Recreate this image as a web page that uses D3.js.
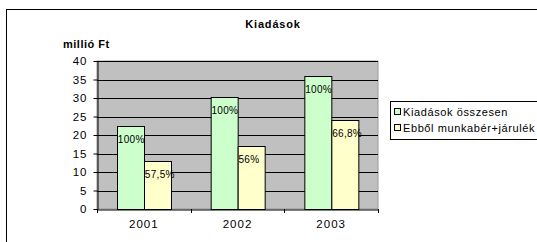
<!DOCTYPE html>
<html>
<head>
<meta charset="utf-8">
<script src="https://cdn.jsdelivr.net/npm/d3@7"></script>
<style>
  body { margin: 0; background: #fff; }
  text { font-family: "Liberation Sans", Arial, sans-serif; }
</style>
</head>
<body>
<script>
// chart data
const categories = ["2001", "2002", "2003"];
const seriesNames = ["Kiadások összesen", "Ebből munkabér+járulék"];
const totalValues = [22.4, 30.3, 35.9];
const wageValues = [12.9, 17.0, 24.0];
const totalLabels = ["100%", "100%", "100%"];
const wageLabels = ["57,5%", "56%", "66,8%"];
const yTicks = [0, 5, 10, 15, 20, 25, 30, 35, 40];
const seriesColors = ["#ccffcc", "#ffffcc"];

const W = 537, H = 242;
const plot = {left: 97, right: 378, top: 61, bottom: 209};

const svg = d3.select("body")
  .append("svg")
    .attr("width", W)
    .attr("height", H);

// outer chart frame (runs off right/bottom edge)
svg.append("rect")
  .attr("x", 6.5).attr("y", 9.5)
  .attr("width", 540).attr("height", 240)
  .attr("fill", "#fff")
  .attr("stroke", "#000");

// scales
const x = d3.scaleBand()
  .domain(categories)
  .range([plot.left, plot.right]);

const x1 = d3.scaleBand()
  .domain(seriesNames)
  .range([0, x.bandwidth()])
  .paddingOuter(0.735);

const y = d3.scaleLinear()
  .domain([0, 40])
  .range([plot.bottom, plot.top]);

// plot background
svg.append("rect")
  .attr("x", plot.left).attr("y", plot.top)
  .attr("width", plot.right - plot.left)
  .attr("height", plot.bottom - plot.top)
  .attr("fill", "#c0c0c0")
  .attr("stroke", "#999");

// gridlines
svg.append("g")
  .selectAll("line")
  .data(yTicks.filter(d => d > 0))
  .enter()
  .append("line")
    .attr("x1", plot.left).attr("x2", plot.right)
    .attr("y1", d => Math.round(y(d)) + 0.5)
    .attr("y2", d => Math.round(y(d)) + 0.5)
    .attr("stroke", "#000");

// bars
const rows = categories.map((c, i) => ({
  cat: c,
  vals: [totalValues[i], wageValues[i]],
  labels: [totalLabels[i], wageLabels[i]]
}));

const groups = svg.append("g")
  .selectAll("g")
  .data(rows)
  .enter()
  .append("g")
    .attr("transform", d => `translate(${x(d.cat)},0)`);

groups.selectAll("rect")
  .data(d => d.vals.map((v, k) => ({name: seriesNames[k], v: v, k: k})))
  .enter()
  .append("rect")
    .attr("x", d => Math.round(x1(d.name)) + 0.5)
    .attr("y", d => Math.round(y(d.v)) + 0.5)
    .attr("width", Math.round(x1.bandwidth()))
    .attr("height", d => Math.round(y(0)) - Math.round(y(d.v)))
    .attr("fill", d => seriesColors[d.k])
    .attr("stroke", "#000");

// percentage labels
groups.selectAll("text")
  .data(d => d.vals.map((v, k) => ({name: seriesNames[k], v: v, label: d.labels[k]})))
  .enter()
  .append("text")
    .attr("x", d => x1(d.name) + 1)
    .attr("y", d => y(d.v) + 17)
    .style("font-size", "10px")
    .style("letter-spacing", "0.3px")
    .attr("fill", "#000")
    .text(d => d.label);

// y axis
const yAxis = svg.append("g")
  .attr("transform", `translate(${plot.left + 0.5},0)`)
  .call(d3.axisLeft(y).tickValues(yTicks).tickSize(4).tickSizeOuter(0).tickPadding(6));
yAxis.select(".domain").attr("stroke", "#000");
yAxis.selectAll("line").attr("stroke", "#000");
yAxis.selectAll("text")
  .style("font-size", "11.5px")
  .style("letter-spacing", "1px")
  .style("font-family", "Liberation Sans, Arial, sans-serif")
  .attr("fill", "#000");

// x axis
const xAxis = svg.append("g")
  .attr("transform", `translate(0,${plot.bottom + 0.5})`)
  .call(d3.axisBottom(x).tickSize(0).tickSizeOuter(0).tickPadding(10));
xAxis.select(".domain").attr("stroke", "#000");
xAxis.selectAll("text")
  .style("font-size", "11.5px")
  .style("letter-spacing", "1px")
  .style("font-family", "Liberation Sans, Arial, sans-serif")
  .attr("fill", "#000");

// category separator ticks
const bounds = categories.map(c => x(c)).concat([x(categories[categories.length - 1]) + x.bandwidth()]);
svg.append("g")
  .selectAll("line")
  .data(bounds)
  .enter()
  .append("line")
    .attr("x1", d => Math.round(d) + 0.5).attr("x2", d => Math.round(d) + 0.5)
    .attr("y1", plot.bottom).attr("y2", plot.bottom + 4)
    .attr("stroke", "#000");

// title
svg.append("text")
  .attr("x", 273).attr("y", 28)
  .attr("text-anchor", "middle")
  .style("font-size", "11px")
  .style("font-weight", "bold")
  .style("letter-spacing", "0.8px")
  .text("Kiadások");

// y axis unit label
svg.append("text")
  .attr("x", 63).attr("y", 48)
  .style("font-size", "11px")
  .style("font-weight", "bold")
  .style("letter-spacing", "0.5px")
  .text("millió Ft");

// legend
const legend = svg.append("g").attr("transform", "translate(390,101)");
legend.append("rect")
  .attr("x", 0.5).attr("y", 0.5)
  .attr("width", 170).attr("height", 38)
  .attr("fill", "#fff")
  .attr("stroke", "#000");

const items = legend.selectAll(".item")
  .data(seriesNames)
  .enter()
  .append("g")
    .attr("class", "item")
    .attr("transform", (d, i) => `translate(0,${11 + i * 16})`);

items.append("rect")
  .attr("x", 4.5).attr("y", -3.5)
  .attr("width", 6).attr("height", 6)
  .attr("fill", (d, i) => seriesColors[i])
  .attr("stroke", "#000");

items.append("text")
  .attr("x", 13).attr("y", 4)
  .style("font-size", "11px")
  .style("letter-spacing", "0.6px")
  .text(d => d);
</script>
</body>
</html>
